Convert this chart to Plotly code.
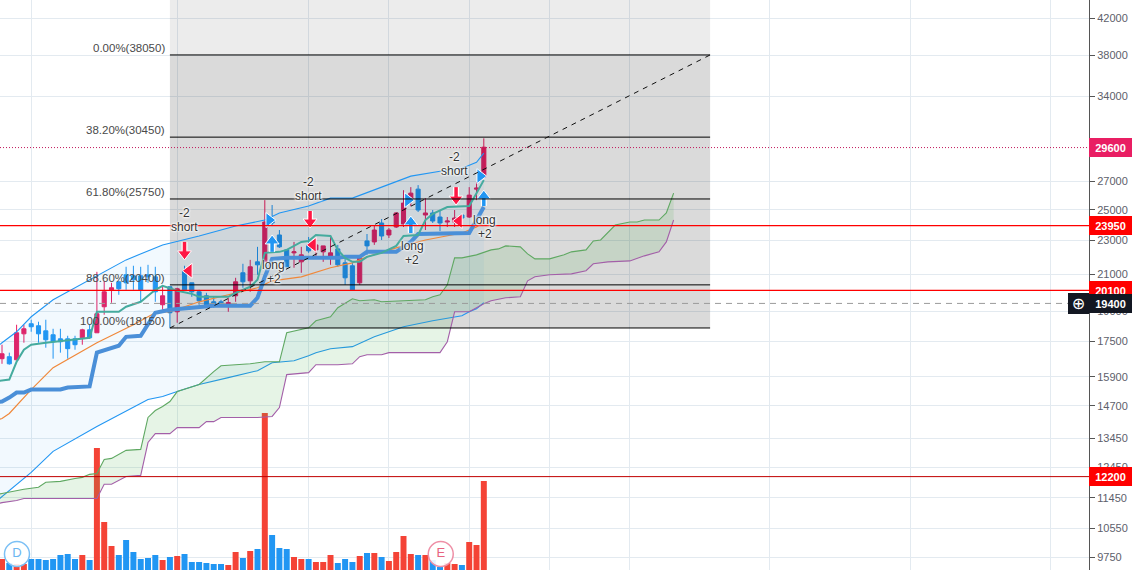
import math
import plotly.graph_objects as go

# OHLC per daily bar, index 0..66
opens = [16700,16790,16650,17865,18360,18260,18010,17820,17625,17625,17625,17675,18060,17915,19225,20130,20570,20965,20910,20910,20965,20850,19330,20295,18965,21195,20515,20020,19805,19485,19485,19385,19805,21080,20625,21715,21715,24320,23355,22430,22250,21715,22735,22430,22310,21950,22490,21655,21485,20515,22980,22920,24125,23355,23865,24060,25740,26445,24655,24790,24520,24190,24190,24655,24520,26445,27320]
highs = [17345,16975,18310,18310,18560,18460,18560,18110,18110,17770,17770,18110,18310,21135,20625,20515,20625,21425,21485,21425,21540,21425,20295,20295,20240,21485,20515,20130,19965,19750,19590,19700,20795,21600,21830,22615,25670,25330,23670,22430,22920,22615,23230,23040,22675,23230,22735,21950,21655,22010,23415,23995,24385,23800,24855,26370,26590,26735,25810,24990,24990,24520,24990,24725,26590,26955,30350]
lows = [16470,16430,16650,17440,17965,17440,17205,16700,16975,16700,17110,17345,17625,17915,18815,19435,19860,20130,20130,19485,20515,19485,19070,18160,18410,20130,19750,19330,19225,19175,19280,18965,19485,20240,20020,20965,21715,23995,22550,21425,21370,21080,22250,21950,21715,21540,21425,20405,20130,20405,22130,22735,23040,23165,23800,23865,25260,24855,23670,24125,23605,23865,23865,24385,24455,25670,27320]
closes = [16925,16470,17915,18110,18210,17865,17580,17485,17485,17160,17345,18060,17675,18865,20020,20240,20185,20515,20680,20130,20850,20020,19805,18915,20185,20130,20020,19540,19330,19280,19385,19435,20570,20570,21425,21540,24190,24125,22615,21425,22310,22130,22370,22735,22675,22250,21540,20795,20130,21950,22675,23670,23290,23670,24790,25465,26160,24990,24790,24255,24125,24255,24455,24455,26020,26515,29630]

volumes = [11,7,6,6,11,11,10,11,15,16,11,15,10,122,48,24,15,30,18,11,12,15,10,13,14,16,8,8,7,6,6,5,18,12,19,21,157,35,22,21,13,11,11,8,8,15,7,11,8,14,17,17,13,9,18,34,16,15,15,10,3,7,6,5,28,25,89]

# Bollinger-style band (index, price)
band_upper_i = [-1,0,2,4,7,11,17,22,27,32,36,38,42,45,48,52,56,60,63,65,66]
band_upper = [17160,17440,17965,18710,19590,20460,21830,22735,23290,23930,24320,24790,25260,25810,25810,26590,27395,27765,27990,28445,29150]
band_lower_i = [-1,0,4,7,13,20,22,24,27,31,35,37,40,42,43,45,48,51,55,59,63,64,65,66]
band_lower = [11305,11495,12270,12990,13895,14950,15070,15275,15570,15865,16165,16515,16605,16835,16975,17160,17255,17720,18210,18510,18765,18965,19120,19435]

# Ichimoku cloud
span_a_i = [-1,0,3,5,6,8,10,11,12,13,14,15,17,19,20,21,22,23,24,27,29,30,34,36,38,39,42,43,45,46,48,49,51,52,58,59,60,61,62,63,65,67,68,69,71,72,73,75,77,78,80,81,82,84,86,87,88,90,91,92]
span_a = [11530,11590,11720,11785,11945,11975,12070,12105,12205,12235,12710,12745,13025,13060,14240,14510,14670,14870,15275,15570,16125,16385,16470,16560,16560,17915,18160,18510,18710,19175,19645,19540,19590,19485,19590,19750,19860,20405,21950,21950,22130,22430,22490,22675,22615,22190,21890,21890,22130,22310,22430,22980,23040,23995,24190,24190,24320,24320,24790,26160]
span_b_i = [-1,0,2,3,13,14,15,17,19,20,21,23,24,27,28,29,30,35,37,38,39,42,43,46,48,49,50,52,53,60,61,62,64,66,67,69,71,72,73,75,78,80,81,83,86,88,90,91,92]
span_b = [11240,11305,11370,11430,11430,11880,11880,12135,12170,13305,13630,13630,13855,13855,14080,14080,14240,14240,14280,14630,15995,16080,16430,16430,16470,16790,16880,16880,16975,16975,17485,18965,18965,19385,19540,19700,19750,20625,20850,20965,21020,21195,21600,21715,21770,22070,22310,22920,24320]

teal_i = [-1,0,1,2,3,4,6,12,13,16,17,19,21,22,24,26,27,31,32,34,35,36,38,39,41,42,43,45,46,47,48,49,50,52,54,55,57,58,59,61,64,65,66]
teal = [15700,15740,15780,16560,17110,17345,17440,17675,18965,18965,19225,19485,20130,20350,20075,19910,19750,19750,19965,20295,20680,22250,22310,22430,22920,22980,23355,23290,22430,21950,21715,21715,22010,22250,22675,23290,23355,24320,24725,25195,25260,26160,27100]
orange_i = [-1,0,1,4,7,13,18,21,23,27,31,35,37,41,45,48,50,54,58,63,65,66]
orange = [14120,14200,14395,15360,16300,17440,18310,18915,18965,19485,19860,20240,20625,20850,21370,21655,22010,22550,23040,23480,23865,24190]
base_i = [-1,0,1,2,3,4,8,9,12,13,16,17,19,21,23,26,29,34,35,36,37,39,46,47,49,50,54,56,57,64,65,66]
base = [14830,14870,15030,15235,15235,15360,15360,15445,15490,16975,17300,17720,17770,18915,19070,19175,19280,19280,19700,20850,21890,21950,21950,22010,22010,22310,22310,22920,23415,23480,24320,25195]

# Signals
down_i = [25,42.2,62.2]
down_tail = [22920,24925,26590]
down_head = [22190,24190,25740]
up_i = [37,56,66]
up_tail = [22310,23480,25260]
up_head = [22980,24190,25950]
left_i = [25.6,42.6,62.6]
left_p = [21195,22735,24255]
right_i = [36.6,55.6,65.5]
right_p = [24320,25670,27395]
short_labels = [(25,24320),(42,26445),(62,28290)]
long_labels = [(37.2,21135),(56.2,22250),(66.1,23865)]

# Fibonacci
fib_levels = [38050,30450,25750,20400,18150]
fib_text = ["0.00%(38050)","38.20%(30450)","61.80%(25750)","88.60%(20400)","100.00%(18150)"]
fib_start, fib_end = 23, 97

tick_prices = [42000,38000,34000,27000,25000,23000,21000,19000,17500,15900,14700,13450,12450,11450,10550,9750]
grid_bars = [4,24,42,53,64,75,86,105.2,124.4,143.6]

Y_MIN, Y_MAX = 9417, 44162
X_MIN, X_MAX = -0.274, 148.9
PINK, BLUE = "#e91e63", "#2196f3"
PINK_DIM, BLUE_DIM = "#c81a55", "#1c81d1"
FONT = "Liberation Sans"
VOL_TOP = 570

def on_base_axis(price):
    # position of a price on the linear base axis that shares the plot height
    return VOL_TOP * (math.log(price) - math.log(Y_MIN)) / (math.log(Y_MAX) - math.log(Y_MIN))

fig = go.Figure()

# volume (lowest layer)
vol_colors = [("#f44336" if c >= o else "#2196f3") for o, c in zip(opens, closes)]
fig.add_trace(go.Bar(x=list(range(len(volumes))), y=volumes, marker=dict(color=vol_colors, line_width=0),
                     width=0.82, yaxis="y", xaxis="x"))
fig.add_trace(go.Scatter(x=[2.05,60.1], y=[16,16], mode="markers+text", text=["D","E"], textposition="middle center",
                         textfont=dict(family=FONT,size=13,color=["#6bb6f2","#e8637f"]),
                         marker=dict(size=25,color="rgba(255,255,255,0.88)",line=dict(width=1.5,color=["#7cc0f5","#ee8fa6"])),
                         yaxis="y", xaxis="x"))

def line(xs, ys, color, width, **kw):
    fig.add_trace(go.Scatter(x=xs, y=ys, mode="lines", line=dict(color=color, width=width), yaxis="y2", xaxis="x", **kw))

# bands
line(band_lower_i, band_lower, "#2196f3", 1.1)
line(band_upper_i, band_upper, "#2196f3", 1.1, fill="tonexty", fillcolor="rgba(33,150,243,0.06)")
# cloud
line(span_b_i, span_b, "#a35fa8", 1.1)
line(span_a_i, span_a, "#5fa862", 1.1, fill="tonexty", fillcolor="rgba(76,175,80,0.14)")

line(orange_i, orange, "#f0883a", 1.2)
line(base_i, base, "#4a8fd8", 4)
line(teal_i, teal, "#45ab9e", 2)

# candles
def candles(a, b, up, down):
    idx = list(range(a, b))
    fig.add_trace(go.Candlestick(x=idx, open=opens[a:b], high=highs[a:b], low=lows[a:b], close=closes[a:b],
                                 increasing=dict(line=dict(color=up, width=1), fillcolor=up),
                                 decreasing=dict(line=dict(color=down, width=1), fillcolor=down),
                                 yaxis="y2", xaxis="x", whiskerwidth=0))
candles(0, 23, PINK, BLUE)
candles(23, len(opens), PINK_DIM, BLUE_DIM)

# arrows
def seg(xs, a, b):
    X, Y = [], []
    for x, p, q in zip(xs, a, b):
        X += [x, x, None]
        Y += [p, q, None]
    return X, Y
for xs, tail, head, col, sym in [(down_i, down_tail, down_head, "#ff1744", "triangle-down"),
                                 (up_i, up_tail, up_head, "#2196f3", "triangle-up")]:
    X, Y = seg(xs, tail, head)
    line(X, Y, "white", 6)
    fig.add_trace(go.Scatter(x=xs, y=head, mode="markers", yaxis="y2", xaxis="x",
                             marker=dict(symbol=sym, size=12, color=col, line=dict(color="white", width=1))))
    line(X, Y, col, 3.5)

fig.add_trace(go.Scatter(x=left_i, y=left_p, mode="markers", yaxis="y2", xaxis="x",
                         marker=dict(symbol="triangle-left", size=13, color="#ff1744", line=dict(color="white", width=1))))
fig.add_trace(go.Scatter(x=right_i, y=right_p, mode="markers", yaxis="y2", xaxis="x",
                         marker=dict(symbol="triangle-right", size=13, color="#2196f3", line=dict(color="white", width=1))))

shapes = []
shapes.append(dict(type="rect", xref="x", yref="y", x0=fib_start, x1=fib_end, y0=on_base_axis(fib_levels[0]), y1=VOL_TOP,
                   fillcolor="rgba(0,0,0,0.075)", line_width=0, layer="between"))
shapes.append(dict(type="rect", xref="x", yref="y", x0=fib_start, x1=fib_end, y0=on_base_axis(fib_levels[-1]), y1=on_base_axis(fib_levels[0]),
                   fillcolor="rgba(0,0,0,0.145)", line_width=0, layer="between"))
for lv in fib_levels:
    shapes.append(dict(type="line", xref="x", yref="y2", x0=fib_start, x1=fib_end, y0=lv, y1=lv,
                       line=dict(color="#000000", width=1), layer="above"))
shapes.append(dict(type="line", xref="x", yref="y2", x0=fib_start, x1=fib_end, y0=fib_levels[-1], y1=fib_levels[0],
                   line=dict(color="#111111", width=1, dash="5px,5px"), layer="above"))
for lv, col, w in [(23950, "#ff0000", 1.2), (20100, "#ff0000", 1.2), (12130, "#c00000", 1)]:
    shapes.append(dict(type="line", xref="paper", yref="y2", x0=0, x1=1, y0=lv, y1=lv,
                       line=dict(color=col, width=w), layer="above"))
shapes.append(dict(type="line", xref="paper", yref="y2", x0=0, x1=1, y0=29600, y1=29600,
                   line=dict(color="#c2185b", width=1, dash="1px,2px"), layer="above"))
shapes.append(dict(type="line", xref="paper", yref="y2", x0=0, x1=0.983, y0=19400, y1=19400,
                   line=dict(color="#9a9a9a", width=1, dash="6px,5px"), layer="above"))

ann = []
for lv, t in zip(fib_levels, fib_text):
    ann.append(dict(x=fib_start, y=math.log10(lv), xref="x", yref="y2", text=t, showarrow=False,
                    xanchor="right", yanchor="bottom", xshift=-3, yshift=-1,
                    font=dict(family=FONT, size=11.5, color="#4a4a4a")))
halo = "0 0 2px #fff, 0 0 2px #fff, 0 0 3px #fff, 0 0 3px #fff"
for (x, y), a, b in [(s, "-2", "short") for s in short_labels] + [(s, "long", "+2") for s in long_labels]:
    for t, sh in ((a, 7), (b, -7)):
        ann.append(dict(x=x, y=math.log10(y), xref="x", yref="y2", text=t, showarrow=False, yshift=sh,
                        font=dict(family=FONT, size=12, color="#333333", shadow=halo)))
for lv, t, col in [(12130,"12200","#ff0000"),(23950,"23950","#ff0000"),(29600,"29600","#e91e63"),
                   (20100,"20100","#ff0000"),(19400,"19400","#131722")]:
    ann.append(dict(x=1, y=math.log10(lv), xref="paper", yref="y2", text="<b>%s</b>" % t, showarrow=False,
                    xanchor="left", xshift=0, width=39, height=15, borderpad=1, bgcolor=col, bordercolor=col,
                    font=dict(family=FONT, size=11, color="white"), align="center"))
ann.append(dict(x=1, y=math.log10(19400), xref="paper", yref="y2", text="⊕", showarrow=False,
                xanchor="right", width=17, height=17, borderpad=1, bgcolor="#131722", bordercolor="#131722",
                font=dict(family="DejaVu Sans", size=16, color="white"), align="center"))

fig.update_layout(
    width=1142, height=570, autosize=False,
    margin=dict(l=0, r=53, t=0, b=0), paper_bgcolor="white", plot_bgcolor="white",
    showlegend=False, hovermode=False, barmode="overlay", boxgap=0.2,
    shapes=shapes, annotations=ann,
    xaxis=dict(range=[X_MIN, X_MAX], tickmode="array", tickvals=grid_bars, showticklabels=False, ticks="",
               showgrid=True, gridcolor="#e3eaf0", gridwidth=1, zeroline=False, rangeslider=dict(visible=False)),
    yaxis=dict(range=[0, VOL_TOP], visible=False, showgrid=False, zeroline=False),
    yaxis2=dict(type="log", overlaying="y", side="right", anchor="x", range=[math.log10(Y_MIN), math.log10(Y_MAX)],
                tickmode="array", tickvals=tick_prices, ticktext=[str(t) for t in tick_prices],
                ticks="outside", ticklen=5, tickcolor="#555555", showline=True, linecolor="#555555", linewidth=1,
                showgrid=True, gridcolor="#e3eaf0", gridwidth=1, zeroline=False,
                tickfont=dict(family=FONT, size=11, color="#5d606b")),
)
fig.write_html("out.html", config=dict(displayModeBar=False),
               post_script="document.body.style.margin='0';document.documentElement.style.overflow='hidden';")
